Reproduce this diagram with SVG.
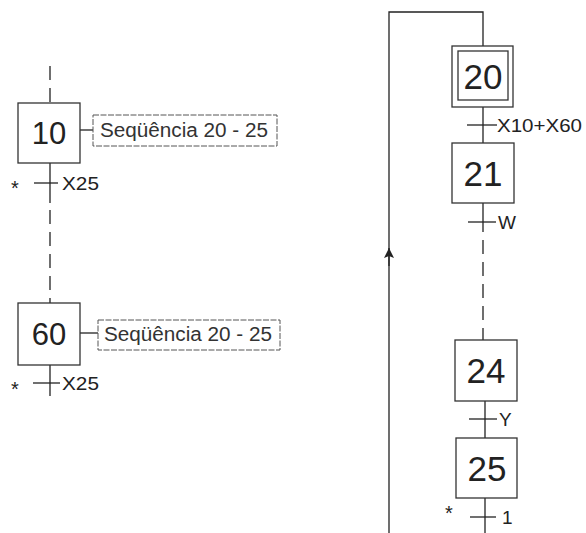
<svg xmlns="http://www.w3.org/2000/svg" width="586" height="533" viewBox="0 0 586 533">
<style>
.ln{stroke:#222;stroke-width:1.3;fill:none}
.ds{stroke:#222;stroke-width:1.3;fill:none;stroke-dasharray:14 8}
.box{stroke:#333;stroke-width:1.3;fill:#fff}
.lbl{stroke:#555;stroke-width:1;fill:#fff;stroke-dasharray:6 1.5}
.num{font-family:"Liberation Sans",Arial,sans-serif;font-size:31px;fill:#222;text-anchor:middle}
.numR{font-family:"Liberation Sans",Arial,sans-serif;font-size:35px;fill:#222;text-anchor:middle}
.t{font-family:"Liberation Sans",Arial,sans-serif;font-size:19px;fill:#222}
.s{font-family:"Liberation Sans",Arial,sans-serif;font-size:20px;fill:#333}
.st{font-family:"Liberation Sans",Arial,sans-serif;font-size:20px;fill:#222;text-anchor:middle}
</style>
<defs>
<marker id="arr" viewBox="0 0 10 10" refX="10" refY="5" markerWidth="14" markerHeight="10" orient="auto" markerUnits="userSpaceOnUse">
<path d="M0,0 L10,5 L0,10 L2,5 z" fill="#222"/>
</marker>
</defs>
<g id="connectors">
<path class="ds" d="M50,66 V103"/>
<path class="ln" d="M50,163 V203"/>
<path class="ds" d="M50,210 V303" stroke-dasharray="18 16"/>
<path class="ln" d="M50,365 V396"/>
<path class="ln" d="M34,183 H58"/>
<path class="ln" d="M33,383 H60"/>
<path class="ln" d="M80,130 H93"/>
<path class="ln" d="M80,333 H98"/>
<path class="ln" d="M389,533 V12 H483 V46"/>
<path class="ln" d="M389,266 V248" marker-end="url(#arr)"/>
<path class="ln" d="M483,107 V143"/>
<path class="ln" d="M467,125 H497"/>
<path class="ln" d="M483,203 V232"/>
<path class="ln" d="M468,222 H496"/>
<path class="ds" d="M483,240 V340" stroke-dasharray="16 10"/>
<path class="ln" d="M485,401 V438"/>
<path class="ln" d="M469,419 H497"/>
<path class="ln" d="M485,498 V533"/>
<path class="ln" d="M470,517 H496"/>
</g>
<g id="node10">
<rect class="box" x="18" y="103" width="62" height="60"/>
<text class="num" x="49" y="144">10</text>
</g>
<g id="label10">
<rect class="lbl" x="93" y="115" width="184" height="31"/>
<text class="s" x="100" y="137" textLength="168" lengthAdjust="spacingAndGlyphs">Seqüência 20 - 25</text>
</g>
<g id="trans10">
<text class="st" x="15" y="195">*</text>
<text class="t" x="62" y="190" textLength="37" lengthAdjust="spacingAndGlyphs">X25</text>
</g>
<g id="node60">
<rect class="box" x="18" y="303" width="62" height="62"/>
<text class="num" x="49" y="345">60</text>
</g>
<g id="label60">
<rect class="lbl" x="98" y="320" width="182" height="30"/>
<text class="s" x="104" y="341" textLength="168" lengthAdjust="spacingAndGlyphs">Seqüência 20 - 25</text>
</g>
<g id="trans60">
<text class="st" x="15" y="396">*</text>
<text class="t" x="62" y="390" textLength="37" lengthAdjust="spacingAndGlyphs">X25</text>
</g>
<g id="node20">
<rect class="box" x="452" y="46" width="61" height="61"/>
<rect class="box" x="458" y="51" width="50" height="49"/>
<text class="numR" x="483" y="89">20</text>
</g>
<g id="trans20">
<text class="t" x="497" y="132" textLength="85" lengthAdjust="spacingAndGlyphs">X10+X60</text>
</g>
<g id="node21">
<rect class="box" x="452" y="143" width="62" height="60"/>
<text class="numR" x="483" y="186">21</text>
</g>
<g id="trans21">
<text class="t" x="498" y="229">W</text>
</g>
<g id="node24">
<rect class="box" x="455" y="340" width="62" height="61"/>
<text class="numR" x="486" y="383">24</text>
</g>
<g id="trans24">
<text class="t" x="499" y="426">Y</text>
</g>
<g id="node25">
<rect class="box" x="456" y="438" width="61" height="60"/>
<text class="numR" x="487" y="481">25</text>
</g>
<g id="trans25">
<text class="st" x="449" y="520">*</text>
<text class="t" x="502" y="524">1</text>
</g>
</svg>
